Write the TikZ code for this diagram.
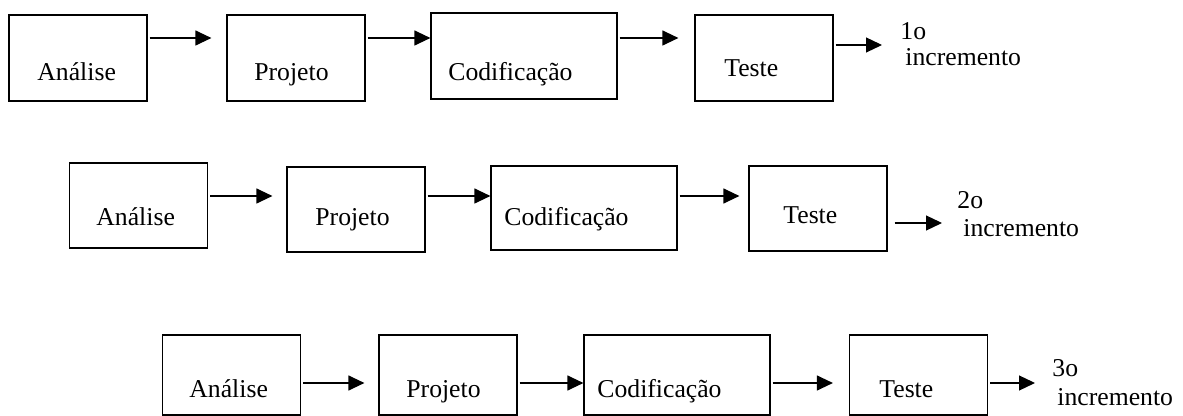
\documentclass[tikz,border=0pt]{standalone}
\usepackage{fontspec}
\setmainfont{Liberation Serif}
\usetikzlibrary{arrows.meta}
\begin{document}
\begin{tikzpicture}
[x=0.5pt, y=-0.5pt,
box/.style={draw, line width=0.6pt, inner sep=0, minimum width=69pt, minimum height=43pt},
boxw/.style={box, minimum width=93pt},
txt/.style={inner sep=0, anchor=base west, font=\fontsize{12.85}{15}\selectfont},
arr/.style={-{Triangle[length=8pt,width=7.5pt]}, line width=0.6pt, shorten <=1pt}]
\useasboundingbox (0,0) rectangle (1183,416);

% 1o incremento
\draw (78,58)    node[box] (a1) {};
\draw (296,58)   node[box] (p1) {};
\draw (524,56)   node[boxw] (c1) {};
\draw (764,58)   node[box] (t1) {};
\draw (37,81)    node[txt] (ta1) {Análise};
\draw (254,81)   node[txt] (tp1) {Projeto};
\draw (448,81)   node[txt] (tc1) {Codificação};
\draw (724,77)   node[txt] (tt1) {Teste};
\draw (900,40)   node[txt] (n1) {1o};
\draw (905,66)   node[txt] (i1) {incremento};
\coordinate (r1) at (0,38);
\coordinate (e1) at (882,45);
\draw [arr, shorten >=7.5pt] (a1.east |- r1) to (p1.west |- r1);
\draw [arr] (p1.east |- r1) to (c1.west |- r1);
\draw [arr, shorten >=8pt] (c1.east |- r1) to (t1.west |- r1);
\draw [arr] (t1.east |- e1) to (e1);

% 2o incremento
\draw (138.5,205.5) node[box, minimum height=42.5pt] (a2) {};
\draw (356,209.5)   node[box, minimum height=42.5pt] (p2) {};
\draw (584,208)     node[boxw, minimum height=42pt] (c2) {};
\draw (818,208.5)   node[box, minimum height=42.5pt] (t2) {};
\draw (96,226)   node[txt] (ta2) {Análise};
\draw (315,226)  node[txt] (tp2) {Projeto};
\draw (504,226)  node[txt] (tc2) {Codificação};
\draw (783,224)  node[txt] (tt2) {Teste};
\draw (957,209)  node[txt] (n2) {2o};
\draw (963,237)  node[txt] (i2) {incremento};
\coordinate (r2) at (0,196);
\coordinate (e2) at (942,223);
\draw [arr, shorten >=7pt] (a2.east |- r2) to (p2.west |- r2);
\draw [arr] (p2.east |- r2) to (c2.west |- r2);
\draw [arr, shorten >=4.5pt] (c2.east |- r2) to (t2.west |- r2);
\draw [arr, shorten <=3.5pt] (t2.east |- e2) to (e2);

% 3o incremento
\draw (231.5,375) node[box, minimum height=40pt] (a3) {};
\draw (448,375)   node[box, minimum height=40pt] (p3) {};
\draw (677,375)   node[boxw, minimum height=40pt] (c3) {};
\draw (918.5,375) node[box, minimum height=40pt] (t3) {};
\draw (189,398)  node[txt] (ta3) {Análise};
\draw (406,398)  node[txt] (tp3) {Projeto};
\draw (597,398)  node[txt] (tc3) {Codificação};
\draw (879,398)  node[txt] (tt3) {Teste};
\draw (1052,377) node[txt] (n3) {3o};
\draw (1057,406) node[txt] (i3) {incremento};
\coordinate (r3) at (0,383);
\coordinate (e3) at (1035,383);
\draw [arr, shorten >=7pt] (a3.east |- r3) to (p3.west |- r3);
\draw [arr] (p3.east |- r3) to (c3.west |- r3);
\draw [arr, shorten >=8pt] (c3.east |- r3) to (t3.west |- r3);
\draw [arr] (t3.east |- e3) to (e3);
\end{tikzpicture}
\end{document}
